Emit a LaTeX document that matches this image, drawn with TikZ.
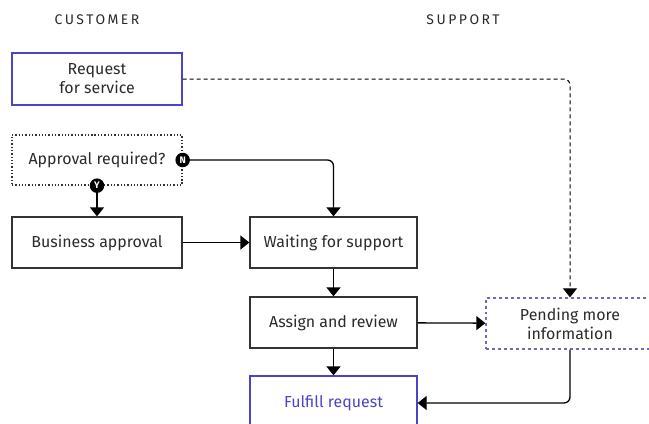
\documentclass[tikz,border=0pt]{standalone}
\usepackage{fontspec}
\setmainfont{Fira Sans}
\newfontfamily\lanefont[LetterSpace=18]{Fira Sans}
\usetikzlibrary{arrows.meta,positioning,calc}
\definecolor{linegray}{HTML}{333333}
\definecolor{textgray}{HTML}{2A2A2A}
\definecolor{reqblue}{HTML}{4A44C6}
\definecolor{pendblue}{HTML}{6E6CB0}
\tikzset{
  flowbox/.style={draw=linegray, line width=1.3bp, minimum width=167bp, minimum height=51bp,
    align=center, inner sep=0pt, text=textgray, font=\fontsize{16}{19}\selectfont},
  flowarrow/.style={draw=black, line width=1.3bp, -{Triangle[length=9bp,width=14bp]}},
  badge/.style={circle, fill=black, text=white, inner sep=0pt, minimum size=14.5bp,
    font=\fontsize{9.5}{9.5}\selectfont\bfseries},
  lanelabel/.style={text=textgray, font=\lanefont\fontsize{14}{14}\selectfont}
}

\begin{document}
\begin{tikzpicture}[x=1bp, y=-1bp]
    \useasboundingbox (0,0) rectangle (649,423);

    % Lanes
    \node[lanelabel] (customer) at (97,20) {CUSTOMER};
    \node[lanelabel] (support) at (463,20) {SUPPORT};

    % Boxes
    \node[flowbox, draw=reqblue, minimum width=170bp, minimum height=52bp] (request) at (97,79) {Request\\for service};
    \node[flowbox, dotted, minimum width=170bp, minimum height=50bp] (approval) at (97,160) {Approval required?};
    \node[flowbox, minimum width=170bp] (business) at (97,242.5) {Business approval};
    \node[flowbox] (waiting) at (333.5,242.5) {Waiting for support};
    \node[flowbox] (assign) at (333.5,322.5) {Assign and review};
    \node[flowbox, draw=reqblue, text=reqblue, minimum height=54bp] (fulfill) at (333.5,403) {Fulfill request};
    \node[flowbox, dashed, draw=pendblue, minimum width=168bp] (pending) at (570,323.5) {Pending more\\information};

    % Decision badges
    \node[badge] (no) at (approval.east) {N};
    \node[badge] (yes) at (approval.south) {Y};

    % Connectors
    \draw[flowarrow, dash pattern=on 4bp off 3bp, line width=1bp, rounded corners=6bp] (request.east) -| (pending.north);
    \draw[flowarrow] (yes) -- (business.north);
    \draw[flowarrow, rounded corners=6bp] (no) -| (waiting.north);
    \draw[flowarrow] (business) -- (waiting);
    \draw[flowarrow] (waiting) -- (assign);
    \draw[flowarrow] (assign) -- (pending);
    \draw[flowarrow] (assign) -- (fulfill);
    \draw[flowarrow, rounded corners=6bp] (pending.south) |- (fulfill.east);

\end{tikzpicture}
\end{document}
